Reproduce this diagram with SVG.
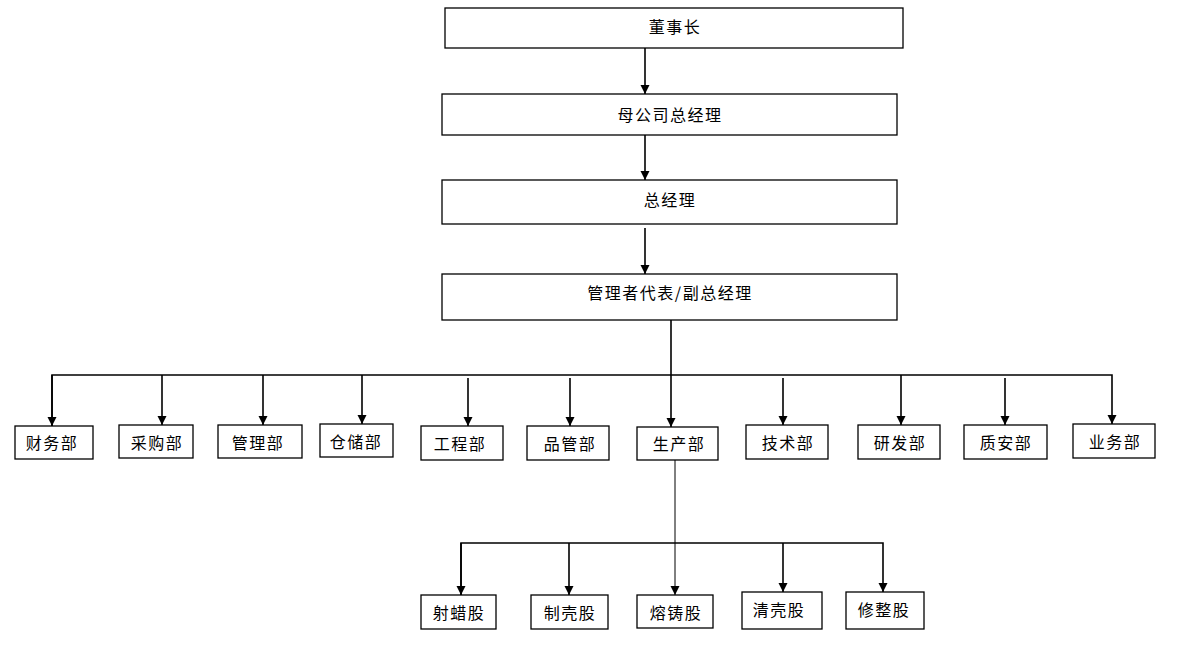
<svg xmlns="http://www.w3.org/2000/svg" width="1200" height="654" viewBox="0 0 1200 654">
<style>
.box{fill:#fff;stroke:#000;stroke-width:1.3}
.t{font-family:"Noto Sans CJK SC","Noto Sans",sans-serif;font-size:16px;letter-spacing:1.5px;fill:#000;text-anchor:middle;dominant-baseline:central}
.ln{fill:none;stroke:#000;stroke-width:1.6}
.thin{fill:none;stroke:#000;stroke-width:1}
</style>
<defs>
<marker id="ah" viewBox="0 0 10 10" refX="10" refY="5" markerWidth="9" markerHeight="10" markerUnits="userSpaceOnUse" orient="auto">
<path d="M0,0 L10,5 L0,10 Z" fill="#000"/>
</marker>
</defs>
<rect width="1200" height="654" fill="#fff"/>
<g id="connectors">
<line class="ln" x1="645" y1="48" x2="645" y2="94" marker-end="url(#ah)"/>
<line class="ln" x1="645" y1="135" x2="645" y2="180" marker-end="url(#ah)"/>
<line class="ln" x1="645" y1="228" x2="645" y2="274" marker-end="url(#ah)"/>
<line class="ln" x1="671" y1="320" x2="671" y2="427" marker-end="url(#ah)"/>
<polyline class="ln" points="52,426 52,375 1112,375 1112,424" marker-end="url(#ah)"/>
<line class="ln" x1="52" y1="375" x2="52" y2="426" marker-end="url(#ah)"/>
<line class="ln" x1="162" y1="375" x2="162" y2="425" marker-end="url(#ah)"/>
<line class="ln" x1="263" y1="375" x2="263" y2="425" marker-end="url(#ah)"/>
<line class="ln" x1="362" y1="375" x2="362" y2="424" marker-end="url(#ah)"/>
<line class="ln" x1="468" y1="378" x2="468" y2="426" marker-end="url(#ah)"/>
<line class="ln" x1="570" y1="378" x2="570" y2="426" marker-end="url(#ah)"/>
<line class="ln" x1="783" y1="378" x2="783" y2="425" marker-end="url(#ah)"/>
<line class="ln" x1="901" y1="375" x2="901" y2="425" marker-end="url(#ah)"/>
<line class="ln" x1="1005" y1="378" x2="1005" y2="425" marker-end="url(#ah)"/>
<line class="thin" x1="675" y1="460" x2="675" y2="595" marker-end="url(#ah)"/>
<polyline class="ln" points="461,595 461,543 883,543 883,592" marker-end="url(#ah)"/>
<line class="ln" x1="461" y1="543" x2="461" y2="595" marker-end="url(#ah)"/>
<line class="ln" x1="569" y1="543" x2="569" y2="595" marker-end="url(#ah)"/>
<line class="ln" x1="783" y1="543" x2="783" y2="592" marker-end="url(#ah)"/>
</g>
<g id="n-chairman"><rect class="box" x="445" y="8" width="458" height="40"/><text class="t" x="675" y="26">董事长</text></g>
<g id="n-parent-gm"><rect class="box" x="442" y="94" width="455" height="41"/><text class="t" x="670" y="114">母公司总经理</text></g>
<g id="n-gm"><rect class="box" x="442" y="180" width="455" height="44"/><text class="t" x="670" y="199">总经理</text></g>
<g id="n-deputy"><rect class="box" x="442" y="274" width="455" height="46"/><text class="t" x="670" y="292">管理者代表/副总经理</text></g>
<g id="n-finance"><rect class="box" x="15" y="426" width="78" height="33"/><text class="t" x="52" y="442">财务部</text></g>
<g id="n-purchase"><rect class="box" x="119" y="425" width="74" height="33"/><text class="t" x="157" y="442">采购部</text></g>
<g id="n-admin"><rect class="box" x="218" y="425" width="84" height="33"/><text class="t" x="258" y="442">管理部</text></g>
<g id="n-storage"><rect class="box" x="320" y="424" width="73" height="33"/><text class="t" x="356" y="441">仓储部</text></g>
<g id="n-engineering"><rect class="box" x="421" y="426" width="82" height="34"/><text class="t" x="460" y="443">工程部</text></g>
<g id="n-qc"><rect class="box" x="527" y="426" width="82" height="34"/><text class="t" x="570" y="443">品管部</text></g>
<g id="n-production"><rect class="box" x="637" y="427" width="81" height="33"/><text class="t" x="679" y="443">生产部</text></g>
<g id="n-tech"><rect class="box" x="746" y="425" width="82" height="34"/><text class="t" x="788" y="442">技术部</text></g>
<g id="n-rd"><rect class="box" x="858" y="425" width="82" height="34"/><text class="t" x="900" y="442">研发部</text></g>
<g id="n-safety"><rect class="box" x="964" y="425" width="83" height="34"/><text class="t" x="1006" y="442">质安部</text></g>
<g id="n-business"><rect class="box" x="1073" y="424" width="82" height="34"/><text class="t" x="1115" y="441">业务部</text></g>
<g id="n-wax"><rect class="box" x="421" y="595" width="75" height="34"/><text class="t" x="459" y="612">射蜡股</text></g>
<g id="n-shell"><rect class="box" x="531" y="595" width="77" height="34"/><text class="t" x="570" y="612">制壳股</text></g>
<g id="n-casting"><rect class="box" x="637" y="595" width="76" height="33"/><text class="t" x="676" y="612">熔铸股</text></g>
<g id="n-clean"><rect class="box" x="742" y="592" width="80" height="37"/><text class="t" x="779" y="609">清壳股</text></g>
<g id="n-finish"><rect class="box" x="846" y="592" width="78" height="37"/><text class="t" x="884" y="609">修整股</text></g>
</svg>
